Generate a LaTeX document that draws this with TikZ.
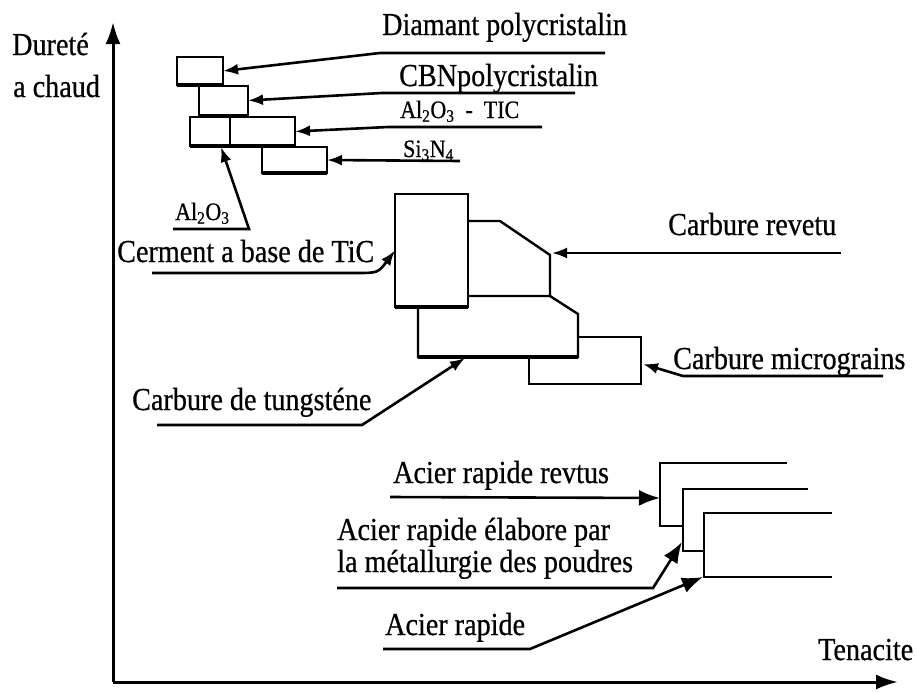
\documentclass[tikz,border=0pt]{standalone}
\usepackage{fontspec}
\setmainfont{Liberation Serif}[FakeStretch=0.88,FakeBold=0.6]
\usetikzlibrary{arrows.meta}
\begin{document}
\begin{tikzpicture}[x=1pt,y=-1pt,
 lab/.style={font=\fontsize{32}{36}\selectfont, inner sep=0pt, anchor=base west},
 smalllab/.style={font=\fontsize{25}{28}\selectfont, inner sep=0pt, anchor=base west},
 axis/.style={line width=3pt, -{Latex[length=22pt,width=15pt]}},
 conn/.style={line width=2.6pt},
 arrS/.style={conn, -{Latex[length=15pt,width=11pt]}},
 arrL/.style={conn, -{Latex[length=21pt,width=16pt]}},
 box/.style={draw, line width=2pt, inner sep=0pt, outer sep=0pt},
 outl/.style={line width=2.4pt, line join=miter},
 heavy/.style={line width=3.6pt},
]
\useasboundingbox (0,0) rectangle (917,691);

% axes
\coordinate (O) at (113,682);
\coordinate (ytip) at (113,22);
\coordinate (xtip) at (898,682);
\draw[axis] (O) -- (ytip);
\draw[axis] (O) -- (xtip);
\node[lab] (tdur) at (12,55) {Dureté};
\node[lab] (tcha) at (13,97) {a chaud};
\node[lab] (tten) at (818,660) {Tenacite};

% top group boxes
\node[box, minimum width=46pt, minimum height=28pt] (b1) at (200,71) {};
\node[box, minimum width=49pt, minimum height=29pt] (b2) at (223.5,100.5) {};
\node[box, minimum width=40pt, minimum height=29pt] (b3a) at (210,131.5) {};
\node[box, minimum width=65pt, minimum height=29pt] (b3b) at (262.5,131.5) {};
\node[box, minimum width=65pt, minimum height=26pt] (b4) at (294.5,160) {};
\draw[heavy] (b1.south west) -- (b1.south east);
\draw[heavy] (b3a.south west) -- (b3b.south east);
\draw[heavy] (b4.south west) -- (b4.south east);

% top group labels
\node[lab] (tdiam) at (382,35) {Diamant polycristalin};
\node[lab] (tcbn) at (399,86) {CBNpolycristalin};
\node[lab, font=\fontsize{25}{28}\selectfont] (talt) at (400,118) {Al\textsubscript{2}O\textsubscript{3} \ - \ TIC};
\node[smalllab] (tsi) at (403,157) {Si\textsubscript{3}N\textsubscript{4}};
\node[smalllab] (tal) at (175,220) {Al\textsubscript{2}O\textsubscript{3}};

% top group connectors
\coordinate (d1) at (605,53); \coordinate (d0) at (380,53);
\draw[arrS] (d1) -- (d0) -- (b1.east);
\coordinate (c1) at (575,93); \coordinate (c0) at (382,93);
\draw[arrS] (c1) -- (c0) -- (b2.east);
\coordinate (a1) at (542,127); \coordinate (a0) at (388,127);
\draw[arrS] (a1) -- (a0) -- (b3b.east);
\coordinate (s1) at (460,161);
\draw[arrS] (s1) -- (b4.east);
\coordinate (al0) at (173,229); \coordinate (al1) at (249,229); \coordinate (altip) at (221,147);
\draw[arrS] (al0) -- (al1) -- (altip);

% middle group
\node[box, minimum width=73pt, minimum height=113pt] (cerm) at (431.5,250.5) {};
\draw[heavy] (cerm.south west) -- (cerm.south east);
\coordinate (r1) at (468,221); \coordinate (r2) at (500,221);
\coordinate (r3) at (550,255); \coordinate (r4) at (550,296); \coordinate (r5) at (468,296);
\draw[outl] (r1) -- (r2) -- (r3) -- (r4) -- (r5);
\coordinate (t1) at (418,307); \coordinate (t2) at (418,357);
\coordinate (t3) at (578,357); \coordinate (t4) at (578,314);
\draw[outl] (t1) -- (t2) -- (t3) -- (t4) -- (r4);
\draw[heavy] (t2) -- (t3);
\coordinate (m1) at (578,337); \coordinate (m2) at (641,337);
\coordinate (m3) at (641,384); \coordinate (m4) at (529,384); \coordinate (m5) at (529,357);
\draw[outl] (m1) -- (m2) -- (m3) -- (m4) -- (m5);

\node[lab] (tcer) at (117,262) {Cerment a base de TiC};
\node[lab] (trev) at (668,235) {Carbure revetu};
\node[lab] (tmic) at (673,369) {Carbure micrograins};
\node[lab] (ttun) at (132,410) {Carbure de tungsténe};

\coordinate (rev0) at (841,253); \coordinate (revtip) at (552,253);
\draw[arrS] (rev0) -- (revtip);
\coordinate (mic0) at (883,376); \coordinate (mic1) at (683,376); \coordinate (mictip) at (643,364);
\draw[arrS] (mic0) -- (mic1) -- (mictip);
\coordinate (cer0) at (152,273); \coordinate (cer1) at (355,273);
\draw[arrS] (cer0) -- (cer1) .. controls (378,273) .. (cerm.west);
\coordinate (tun0) at (157,425); \coordinate (tun1) at (362,425); \coordinate (tuntip) at (465,358);
\draw[arrS] (tun0) -- (tun1) -- (tuntip);

% bottom group
\coordinate (pa1) at (787,463); \coordinate (pa2) at (660,463); \coordinate (pa3) at (660,526); \coordinate (pa4) at (683,526);
\draw[outl] (pa1) -- (pa2) -- (pa3) -- (pa4);
\coordinate (pb1) at (808,489); \coordinate (pb2) at (683,489); \coordinate (pb3) at (683,551); \coordinate (pb4) at (704,551);
\draw[outl] (pb1) -- (pb2) -- (pb3) -- (pb4);
\coordinate (pc1) at (832,513); \coordinate (pc2) at (704,513); \coordinate (pc3) at (704,577); \coordinate (pc4) at (832,577);
\draw[outl] (pc1) -- (pc2) -- (pc3) -- (pc4);

\node[lab] (trevt) at (393,483) {Acier rapide revtus};
\node[lab] (tela1) at (337,540) {Acier rapide élabore par};
\node[lab] (tela2) at (337,572) {la métallurgie des poudres};
\node[lab] (tacier) at (385,635) {Acier rapide};

\coordinate (rv0) at (390,497); \coordinate (rvtip) at (660,498);
\draw[arrL] (rv0) -- (rvtip);
\coordinate (el0) at (337,588); \coordinate (el1) at (653,588); \coordinate (eltip) at (682,542);
\draw[arrL] (el0) -- (el1) -- (eltip);
\coordinate (ac0) at (383,649); \coordinate (ac1) at (530,649); \coordinate (actip) at (703,577);
\draw[arrL] (ac0) -- (ac1) -- (actip);
\end{tikzpicture}
\end{document}
